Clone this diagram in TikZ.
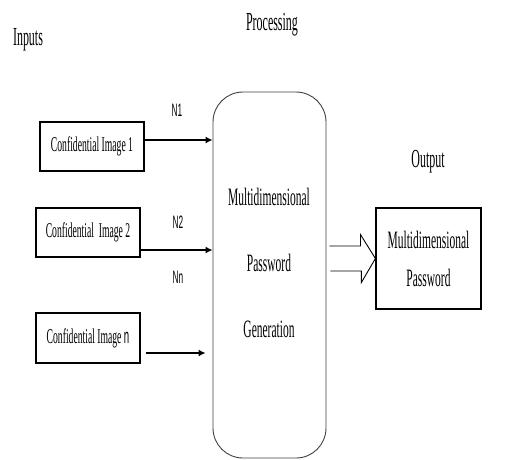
\documentclass[tikz,border=0pt]{standalone}
\usepackage{fontspec}
\setmainfont{Liberation Serif}[FakeStretch=0.46]
\newfontfamily\nfont{Liberation Sans}[FakeStretch=0.46]
\usetikzlibrary{arrows.meta}
\begin{document}
\begin{tikzpicture}[x=1pt,y=-1pt,
  inbox/.style={draw,line width=1.2pt,minimum width=104pt,minimum height=49pt,
    inner sep=0pt,font=\fontsize{21}{24}\selectfont},
  inarrow/.style={line width=1.3pt,-{Latex[length=7pt,width=7pt]}},
  head/.style={font=\fontsize{26}{30}\selectfont},
  nlabel/.style={font=\nfont\fontsize{18}{20}\selectfont}]
\useasboundingbox (0,0) rectangle (508,459);
% titles
\node[head] (inputs) at (28,40) {Inputs};
\node[head] (proc) at (272,25) {Processing};
\node[head] (outlbl) at (428,162) {Output};
% input images
\node[inbox] (in1) at (92,146.5) {Confidential Image 1};
\node[inbox] (in2) at (88,232.5) {Confidential\ \ Image 2};
\node[inbox,minimum height=50pt] (in3) at (88,338) {Confidential Image {\nfont n}};
% processing block
\node[draw=black!75,line width=0.9pt,rounded corners=30pt,minimum width=113pt,
  minimum height=366pt] (gen) at (269.5,275) {};
\node[align=center,font=\fontsize{25}{66}\selectfont] (gentext) at (269,263)
  {Multidimensional\\Password\\Generation};
% output block
\node[draw,line width=1.2pt,minimum width=105pt,minimum height=101pt,align=center,
  font=\fontsize{25}{38}\selectfont] (out) at (428.5,258.5) {Multidimensional\\Password};
% connectors
\draw[inarrow] ([yshift=6.5pt]in1.east) -- ([yshift=6.5pt]in1.east -| gen.west);
\draw[inarrow] ([yshift=-17.5pt]in2.east) -- ([yshift=-17.5pt]in2.east -| gen.west);
\draw[inarrow] ([xshift=5pt,yshift=-15pt]in3.east) -- ([xshift=-7pt,yshift=-15pt]in3.east -| gen.west);
\node[nlabel] (n1) at (177,110) {N1};
\node[nlabel] (n2) at (178,222) {N2};
\node[nlabel] (nn) at (178,277) {Nn};
% hollow arrow
\draw[line width=0.9pt] (gen.east |- out.west) ++(3,-12.5) -- ++(31,0) -- ++(0,-11.5)
  -- (out.west) -- ++(-14,24) -- ++(0,-11.5) -- ++(-31,0);
\end{tikzpicture}
\end{document}
